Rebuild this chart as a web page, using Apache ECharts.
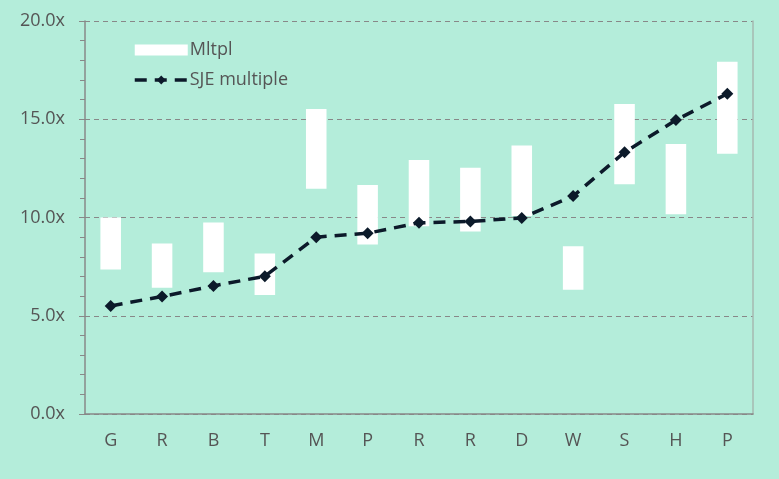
<!DOCTYPE html>
<html>
<head>
<meta charset="utf-8">
<script src="https://cdn.jsdelivr.net/npm/echarts@6/dist/echarts.min.js"></script>
<style>
  html, body { margin:0; padding:0; background:#b4edda; }
  #chart { width:779px; height:479px; }
</style>
</head>
<body>
<div id="chart"></div>
<script>
const categories = ['G', 'R', 'B', 'T', 'M', 'P', 'R', 'R', 'D', 'W', 'S', 'H', 'P']
const rangeLow  = [7.35, 6.42, 7.22, 6.05, 11.46, 8.62, 9.56, 9.29, 10.07, 6.32, 11.69, 10.16, 13.25]
const rangeHigh = [10.0, 8.68, 9.75, 8.17, 15.52, 11.65, 12.92, 12.53, 13.67, 8.54, 15.78, 13.74, 17.92]
const sjeMultiple = [5.50, 5.98, 6.52, 7.01, 9.00, 9.20, 9.73, 9.80, 9.98, 11.09, 13.32, 14.96, 16.30]

const rangeSpan = rangeHigh.map((h, i) => +(h - rangeLow[i]).toFixed(2))

const font = "'Open Sans', sans-serif"
const textColor = '#555'
const axisGray = '#888'
const navy = '#0c1a2a'

const chart = echarts.init(document.getElementById('chart'), null, { renderer: 'canvas' })
chart.setOption({
  backgroundColor: '#b4edda',
  animation: false,
  textStyle: { fontFamily: font },
  grid: { left: 85, right: 26, top: 21, bottom: 65 },
  legend: {
    orient: 'vertical',
    left: 128,
    top: 36,
    itemWidth: 53,
    itemHeight: 11,
    itemGap: 12,
    textStyle: { fontFamily: font, fontSize: 18, color: textColor, padding: [0, 0, 0, -3] },
    data: [
      { name: 'Mltpl', icon: 'rect' },
      { name: 'SJE multiple', lineStyle: { width: 3.5, type: [12, 8], color: navy } },
    ],
  },
  xAxis: {
    type: 'category',
    data: categories,
    axisLine: { lineStyle: { color: axisGray, width: 1.5 } },
    axisTick: { alignWithLabel: true, length: 4, lineStyle: { color: axisGray } },
    axisLabel: { color: textColor, fontSize: 18, margin: 18, fontFamily: font },
  },
  yAxis: [{
    type: 'value',
    min: 0,
    max: 20,
    interval: 5,
    axisLine: { show: true, lineStyle: { color: axisGray, width: 1.5 } },
    axisTick: { show: true, length: 6, lineStyle: { color: axisGray } },
    minorTick: { show: true, splitNumber: 5, length: 5, lineStyle: { color: axisGray } },
    axisLabel: {
      color: textColor, fontSize: 18, margin: 20, fontFamily: font,
      formatter: v => v.toFixed(1) + 'x',
    },
    splitLine: { show: true, lineStyle: { color: axisGray, type: [5, 4], width: 1 } },
  }, {
    type: 'value',
    position: 'right',
    min: 0,
    max: 20,
    interval: 5,
    axisLine: { show: true, lineStyle: { color: '#a6b8b0', width: 1.5 } },
    axisTick: { show: false },
    axisLabel: { show: false },
    splitLine: { show: false },
  }],
  series: [
    {
      name: 'base',
      type: 'bar',
      stack: 'range',
      barWidth: '40%',
      silent: true,
      itemStyle: { color: 'transparent' },
      data: rangeLow,
    },
    {
      name: 'Mltpl',
      type: 'bar',
      stack: 'range',
      barWidth: '40%',
      itemStyle: { color: '#ffffff' },
      data: rangeSpan,
    },
    {
      name: 'SJE multiple',
      type: 'line',
      data: sjeMultiple,
      symbol: 'diamond',
      symbolSize: 12,
      itemStyle: { color: navy },
      lineStyle: { color: navy, width: 3.5, type: [12, 8] },
      z: 5,
    },
  ],
})
</script>
</body>
</html>
